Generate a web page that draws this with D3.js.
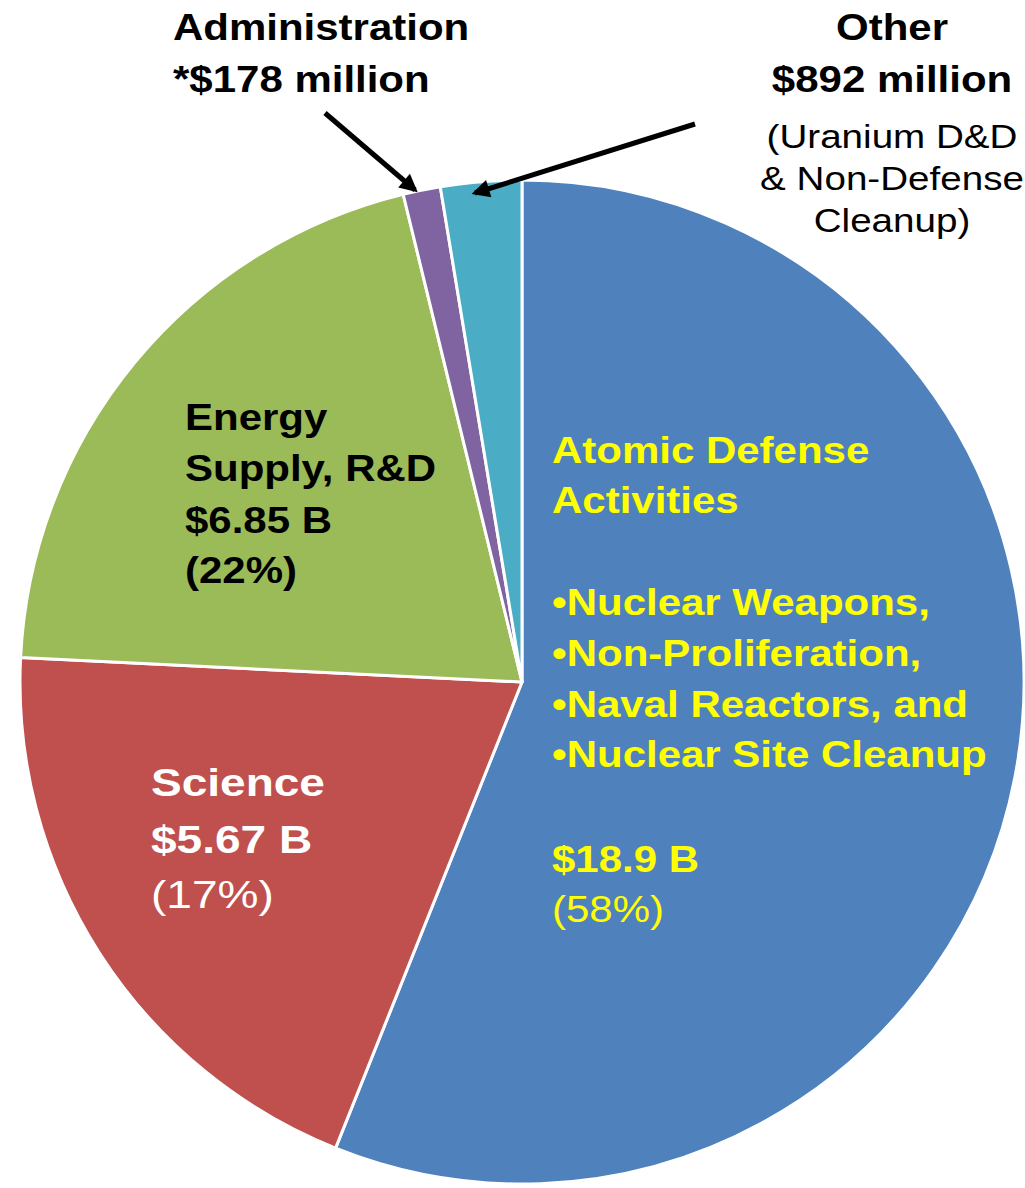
<!DOCTYPE html>
<html>
<head>
<meta charset="utf-8">
<script src="https://cdn.jsdelivr.net/npm/d3@7"></script>
<style>
  body { margin: 0; background: #fff; }
  svg text { font-family: "Liberation Sans", Arial, sans-serif; }
</style>
</head>
<body>
<script>
// slices, clockwise from 12 o'clock (shares as drawn in the picture, % of circle)
var categories = ["Atomic Defense Activities", "Science", "Energy Supply, R&D", "Administration", "Other"];
var shares = [56.0, 19.7, 20.4, 1.2, 2.6];

// label texts
var atomicLines = ["Atomic Defense", "Activities", "", "\u2022Nuclear Weapons,", "\u2022Non-Proliferation,", "\u2022Naval Reactors, and", "\u2022Nuclear Site Cleanup", "", "$18.9 B", "(58%)"];
var scienceLines = ["Science", "$5.67 B", "(17%)"];
var energyLines = ["Energy", "Supply, R&D", "$6.85 B", "(22%)"];
var adminLines = ["Administration", "*$178 million"];
var otherLines = ["Other", "$892 million", "(Uranium D&D", "& Non-Defense", "Cleanup)"];

var width = 1025,
    height = 1188,
    cx = 522,
    cy = 682,
    radius = 502,
    sx = 1.135;   // text in the picture is a bit wider than Arial

var colors = ["#4F81BD", "#C0504D", "#9BBB59", "#8064A2", "#4BACC6"];

var svg = d3.select("body")
            .append("svg")
            .attr("width", width)
            .attr("height", height);

var pie = d3.pie().sort(null).value(function(d){ return d; });
var arc = d3.arc().innerRadius(0).outerRadius(radius);

svg.append("g")
   .attr("transform", "translate(" + cx + "," + cy + ")")
   .selectAll("path")
   .data(pie(shares))
   .enter()
   .append("path")
   .attr("d", arc)
   .attr("fill", function(d, i){ return colors[i]; })
   .attr("stroke", "#fff")
   .attr("stroke-width", 3)
   .attr("stroke-linejoin", "round");

// draws a block of lines; weights: "bold"/"normal" per line
function block(lines, x, baselines, opts){
    var g = svg.append("g");
    lines.forEach(function(t, i){
        if (t == "") return;
        g.append("text")
         .attr("transform", "translate(" + x + "," + baselines[i] + ") scale(" + (opts.sx || sx) + ",1)")
         .attr("text-anchor", opts.anchor || "start")
         .attr("font-size", (opts.sizes ? opts.sizes[i] : opts.size) + "px")
         .attr("font-weight", opts.weights ? opts.weights[i] : "bold")
         .attr("fill", opts.fill)
         .text(t);
    });
}

block(atomicLines, 552, [463, 513, 0, 615, 666, 717, 767, 0, 872, 922], {
    size: 37, fill: "#FFFF00",
    weights: ["bold", "bold", "", "bold", "bold", "bold", "bold", "", "bold", "normal"]
});
block(scienceLines, 151, [796, 853, 908], {
    size: 39, sx: 1.18, fill: "#fff", weights: ["bold", "bold", "normal"]
});
block(energyLines, 185, [430, 481, 533, 583], { size: 37, fill: "#000" });
block(adminLines, 173, [40, 92], { size: 37, fill: "#000" });
block(otherLines, 892, [40, 92, 148, 190, 232], {
    anchor: "middle", fill: "#000",
    sizes: [37, 37, 34, 34, 34],
    weights: ["bold", "bold", "normal", "normal", "normal"]
});

// arrows
svg.append("defs").append("marker")
   .attr("id", "head")
   .attr("viewBox", "0 0 10 10")
   .attr("refX", 8)
   .attr("refY", 5)
   .attr("markerWidth", 4.2)
   .attr("markerHeight", 3.6)
   .attr("markerUnits", "strokeWidth")
   .attr("orient", "auto")
   .append("path")
   .attr("d", "M0,0 L10,5 L0,10 Z")
   .attr("fill", "#000");

var arrows = [[325, 113, 415, 190], [695, 124, 475, 193]];
svg.selectAll("line.arrow")
   .data(arrows)
   .enter()
   .append("line")
   .attr("class", "arrow")
   .attr("x1", function(d){ return d[0]; })
   .attr("y1", function(d){ return d[1]; })
   .attr("x2", function(d){ return d[2]; })
   .attr("y2", function(d){ return d[3]; })
   .attr("stroke", "#000")
   .attr("stroke-width", 5)
   .attr("marker-end", "url(#head)");
</script>
</body>
</html>
